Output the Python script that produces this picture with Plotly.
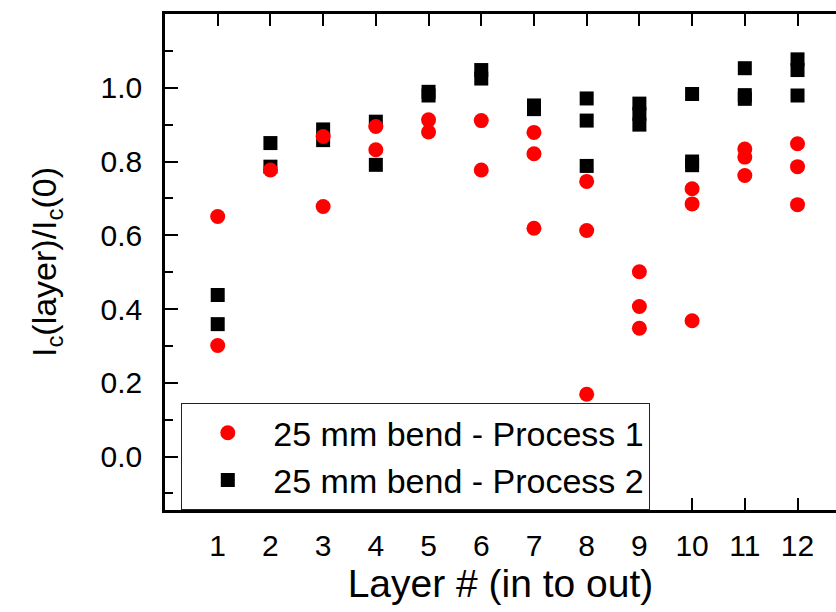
import plotly.graph_objects as go

# ---- data ----
layer_p1 = [1, 1, 2, 3, 3, 4, 4, 5, 5, 6, 6, 7, 7, 7, 8, 8, 8, 9, 9, 9,
            10, 10, 10, 11, 11, 11, 12, 12, 12]
ratio_p1 = [0.651, 0.301, 0.777, 0.868, 0.678, 0.895, 0.832, 0.913, 0.880,
            0.911, 0.777, 0.879, 0.821, 0.619, 0.746, 0.613, 0.169, 0.501,
            0.407, 0.348, 0.726, 0.685, 0.368, 0.834, 0.812, 0.762, 0.848,
            0.786, 0.683]

layer_p2 = [1, 1, 2, 2, 3, 3, 4, 4, 5, 5, 6, 6, 7, 7, 8, 8, 8, 9, 9, 9,
            10, 10, 10, 11, 11, 11, 12, 12, 12]
ratio_p2 = [0.438, 0.359, 0.850, 0.786, 0.887, 0.858, 0.908, 0.791, 0.989,
            0.979, 1.048, 1.025, 0.952, 0.942, 0.971, 0.911, 0.788, 0.957,
            0.929, 0.900, 0.983, 0.800, 0.790, 1.053, 0.980, 0.970, 1.077,
            1.048, 0.979]

name_p1 = "25 mm bend - Process 1"
name_p2 = "25 mm bend - Process 2"

x_tickvals = list(range(1, 13))
y_tickvals = [0.0, 0.2, 0.4, 0.6, 0.8, 1.0]
y_ticktext = ["0.0", "0.2", "0.4", "0.6", "0.8", "1.0"]
y_minorvals = [-0.1, 0.1, 0.3, 0.5, 0.7, 0.9, 1.1]

FONT = "Liberation Sans, Arial, sans-serif"

fig = go.Figure()
fig.add_trace(go.Scatter(
    x=layer_p2, y=ratio_p2, mode="markers", name=name_p2,
    marker=dict(symbol="square", size=14, color="black", line=dict(width=0)),
))
fig.add_trace(go.Scatter(
    x=layer_p1, y=ratio_p1, mode="markers", name=name_p1,
    marker=dict(symbol="circle", size=15, color="#ff0000", line=dict(width=0)),
))

fig.update_layout(
    width=836, height=612,
    margin=dict(l=165, r=0, t=14, b=102),
    paper_bgcolor="white", plot_bgcolor="white",
    font=dict(family=FONT, color="black", size=30),
    showlegend=True,
    legend=dict(
        x=0.024, y=0.2157, xanchor="left", yanchor="top",
        traceorder="reversed",
        bordercolor="#222222", borderwidth=1.2, bgcolor="white",
        font=dict(size=34, family=FONT),
        itemwidth=81,
        tracegroupgap=0,
    ),
    xaxis=dict(
        range=[0, 12.73],
        tickmode="array", tickvals=x_tickvals,
        ticks="inside", ticklen=12, tickwidth=2, tickcolor="black",
        showline=True, linewidth=2.5, linecolor="black", mirror="ticks",
        showgrid=False, zeroline=False,
        tickfont=dict(size=30),
        ticklabelstandoff=7,
        title=dict(text="Layer # (in to out)", font=dict(size=39), standoff=8),
    ),
    yaxis=dict(
        range=[-0.145, 1.2],
        tickmode="array", tickvals=y_tickvals, ticktext=y_ticktext,
        ticks="inside", ticklen=13, tickwidth=2, tickcolor="black",
        minor=dict(tickmode="array", tickvals=y_minorvals, ticks="inside",
                   ticklen=8, tickwidth=2, tickcolor="black", showgrid=False),
        showline=True, linewidth=2.5, linecolor="black", mirror=False,
        showgrid=False, zeroline=False,
        tickfont=dict(size=30),
        ticklabelstandoff=14,
        title=dict(text="I<sub>c</sub>(layer)/I<sub>c</sub>(0)",
                   font=dict(size=34), standoff=34),
    ),
)

fig.write_html("out.html")
